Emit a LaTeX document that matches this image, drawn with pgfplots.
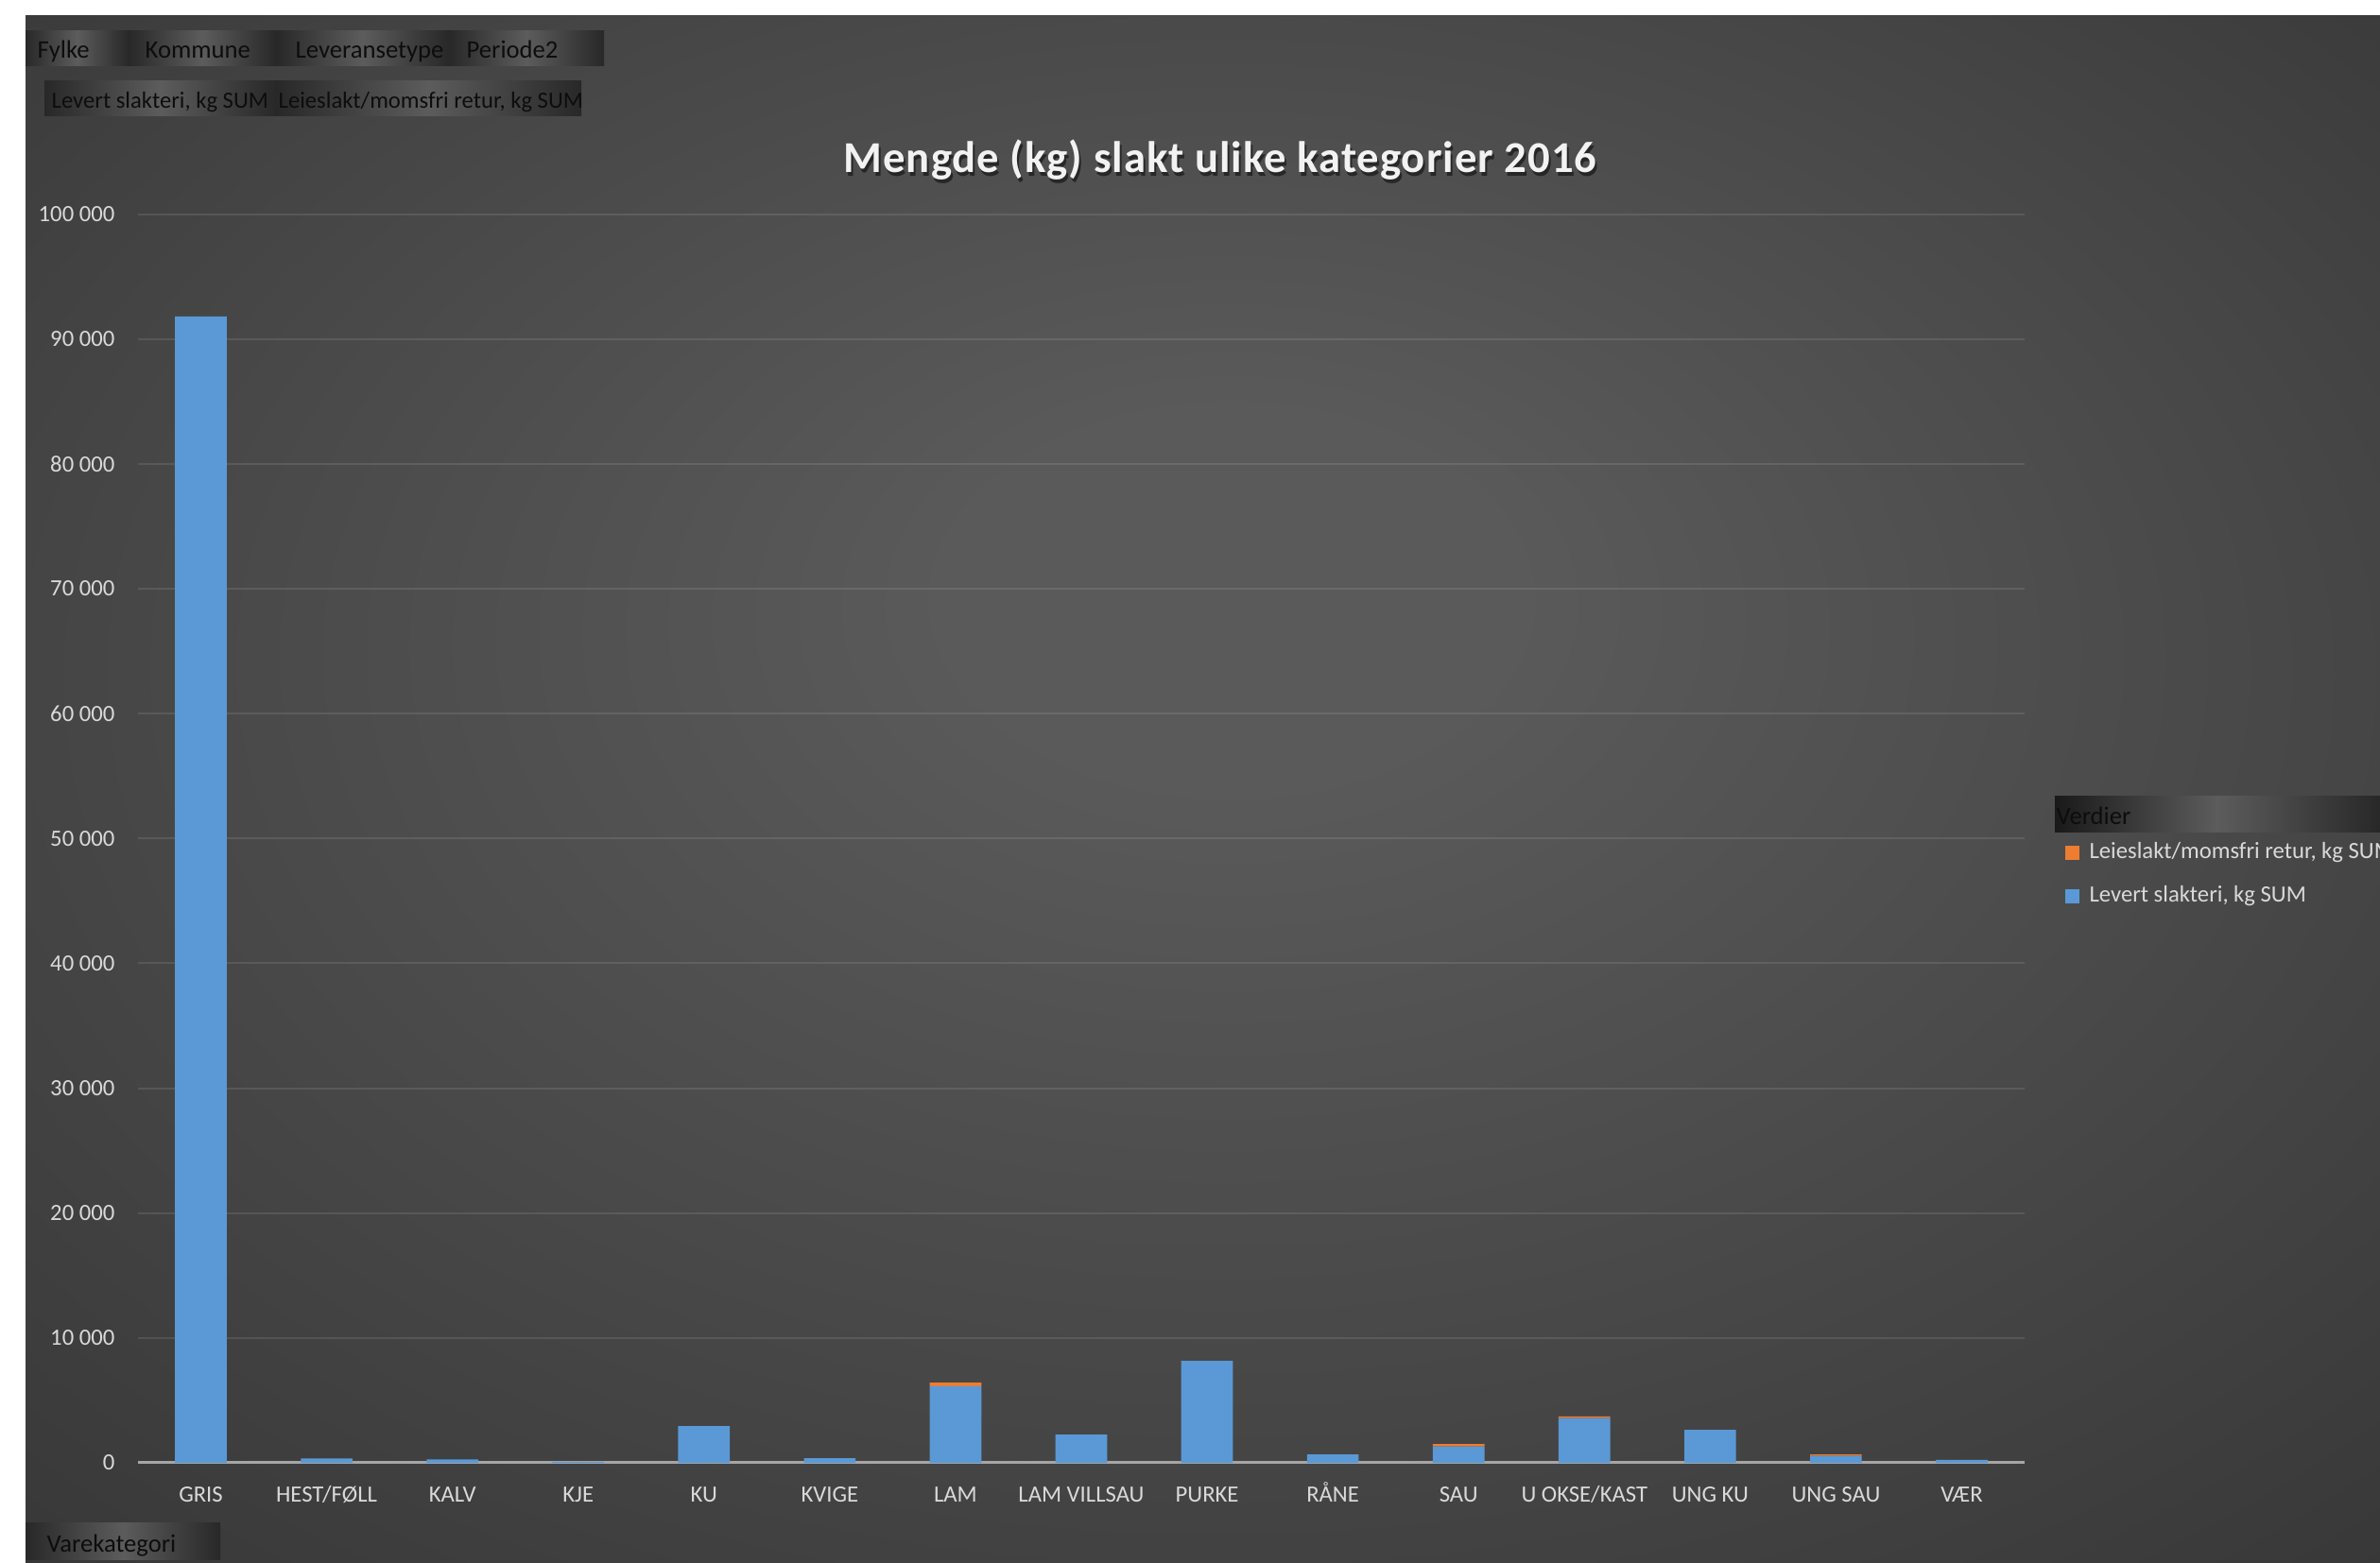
\documentclass[border=0pt]{standalone}
\usepackage{pgfplots}
\pgfplotsset{compat=1.18}
\usepackage{fontspec}
\setmainfont{Carlito}

\definecolor{bgin}{HTML}{5A5A5A}
\definecolor{bgmid}{HTML}{303030}
\definecolor{bgout}{HTML}{262626}
\definecolor{txt}{HTML}{D9D9D9}
\definecolor{barblue}{HTML}{5A99D5}
\definecolor{barorange}{HTML}{ED7D31}
\definecolor{btndark}{HTML}{282828}
\definecolor{btnlight}{HTML}{5C5C5C}
\definecolor{axline}{HTML}{A6A6A6}

\pgfdeclareradialshading{bgshade}{\pgfpoint{0.7bp}{7bp}}{%
  color(0bp)=(bgin); color(6bp)=(bgin); color(44bp)=(bgmid); color(50bp)=(bgout)}

\newcommand\tfont{\fontsize{7.4pt}{8.9pt}\selectfont}
\newcommand\bfont{\fontsize{8pt}{9.6pt}\selectfont}
\newcommand\sfont{\fontsize{7.4pt}{8.9pt}\selectfont}

\tikzset{btn/.style={left color=btndark, right color=btndark, middle color=btnlight, draw=none}}

\begin{document}
\begin{tikzpicture}
\useasboundingbox (0pt,0pt) rectangle (755.4pt,-495.9pt);
\begin{scope}[x=0.3pt,y=-0.3pt]
  \fill[white] (0,0) rectangle (2518,1653);
  \shade[shading=bgshade] (27,16) rectangle (2518,1653);
  % field buttons
  \shade[btn] (27,32) rectangle (136,69);
  \shade[btn] (136,32) rectangle (292,69);
  \shade[btn] (292,32) rectangle (475,69);
  \shade[btn] (475,32) rectangle (639,69);
  \shade[btn] (47,85) rectangle (292,122);
  \shade[btn] (292,85) rectangle (615,122);
  \shade[btn] (27,1611) rectangle (233,1650);
  \shade[left color=black!90, right color=btndark, middle color=btnlight] (2174,842) rectangle (2518,880);
  \begin{scope}[every node/.style={anchor=base west, inner sep=0pt, text=black!95, font=\bfont}]
    \node at (39,61) {Fylke};
    \node at (153,61) {Kommune};
    \node at (312,61) {Leveransetype};
    \node at (493,61) {Periode2};
    \node[font=\sfont] at (54,114) {Levert slakteri, kg SUM};
    \node[font=\sfont] at (294,114) {Leieslakt/momsfri retur, kg SUM};
    \node at (49,1642) {Varekategori};
    \node at (2175,872) {Verdier};
  \end{scope}
  % title
  \node[text=black, opacity=0.5, font=\fontsize{14pt}{16pt}\selectfont\bfseries\addfontfeatures{LetterSpace=2.2}] at (1293,173) {Mengde (kg) slakt ulike kategorier 2016};
  \node[text=white!95!black, font=\fontsize{14pt}{16pt}\selectfont\bfseries\addfontfeatures{LetterSpace=2.2}] at (1291,169) {Mengde (kg) slakt ulike kategorier 2016};
\end{scope}

\begin{axis}[
  at={(43.8pt,-464.4pt)}, anchor=south west,
  scale only axis, width=598.8pt, height=396.45pt,
  ybar stacked, bar width=16.4pt,
  xmin=-0.5, xmax=14.5, ymin=0, ymax=100000,
  xtick={0,...,14},
  xticklabels={GRIS,HEST/FØLL,KALV,KJE,KU,KVIGE,LAM,LAM VILLSAU,PURKE,RÅNE,SAU,U OKSE/KAST,UNG KU,UNG SAU,VÆR},
  ytick={0,10000,20000,30000,40000,50000,60000,70000,80000,90000,100000},
  yticklabels={0,10 000,20 000,30 000,40 000,50 000,60 000,70 000,80 000,90 000,100 000},
  scaled y ticks=false,
  /pgf/number format/assume math mode=true,
  axis line style={draw=none},
  major tick length=0pt,
  tick style={draw=none},
  ymajorgrids,
  grid style={white, opacity=0.1, line width=0.6pt},
  xticklabel style={font=\tfont, text=txt, inner sep=0pt, anchor=north, text height=4.8pt, text depth=1.4pt, yshift=-7.3pt},
  yticklabel style={font=\tfont, text=txt, inner sep=0pt, anchor=east, xshift=-7.2pt},
  legend style={at={(1.021,0.497)}, anchor=north west, draw=none, fill=none,
    inner sep=0pt, row sep=7.4pt, font=\tfont, text=txt,
    nodes={inner sep=0pt, text height=5pt, text depth=1.4pt},
    /tikz/every odd column/.append style={column sep=3.3pt}},
  legend cell align=left,
  reverse legend,
  legend image code/.code={\fill[#1] (0pt,-2.25pt) rectangle (4.5pt,2.25pt);},
]
\addplot[draw=none, fill=barblue] coordinates {
(0,91800) (1,350) (2,270) (3,80) (4,2950) (5,380) (6,6150) (7,2270)
(8,8170) (9,680) (10,1310) (11,3580) (12,2650) (13,555) (14,230)};
\addlegendentry{Levert slakteri, kg SUM}
\addplot[draw=none, fill=barorange] coordinates {
(0,0) (1,0) (2,0) (3,0) (4,0) (5,0) (6,280) (7,0)
(8,0) (9,0) (10,200) (11,130) (12,0) (13,125) (14,0)};
\addlegendentry{Leieslakt/momsfri retur, kg SUM}
\draw[axline, line width=1pt] (axis cs:-0.5,0) -- (axis cs:14.5,0);
\end{axis}
\end{tikzpicture}
\end{document}
